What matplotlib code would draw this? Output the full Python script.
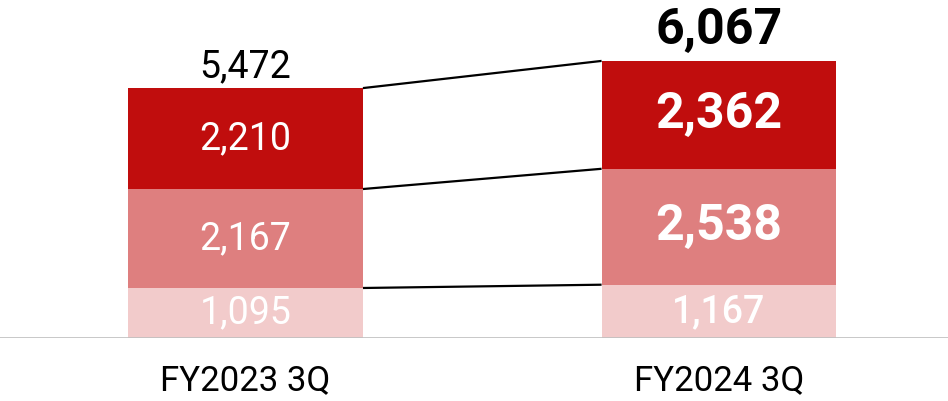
import matplotlib
matplotlib.use("Agg")
import matplotlib.pyplot as plt

categories = ["FY2023 3Q", "FY2024 3Q"]
bottom_vals = [1095, 1167]
middle_vals = [2167, 2538]
top_vals = [2210, 2362]
totals = [5472, 6067]

colors = ["#F2CBCB", "#DE7F7F", "#C00D0D"]

fig = plt.figure(figsize=(9.48, 4.01), dpi=100)
ax = fig.add_axes([0, 63/401, 1, 338/401])
font = "Roboto"

x = [0, 1]
w = 0.496
series = [bottom_vals, middle_vals, top_vals]
cum = [0, 0]
levels = []
for si, vals in enumerate(series):
    ax.bar(x, vals, width=w, bottom=cum, color=colors[si], edgecolor="none", zorder=2)
    for i in range(2):
        if i == 1 and si > 0:
            fs, fw = 36, "bold"
        elif i == 1:
            fs, fw = 27, "medium"
        else:
            fs, fw = 27, "normal"
        ax.text(x[i], cum[i] + vals[i] / 2, f"{vals[i]:,}", ha="center", va="center",
                color="white", fontsize=fs, fontweight=fw, family=font, zorder=3)
    cum = [cum[i] + vals[i] for i in range(2)]
    levels.append(list(cum))

for lv in levels:
    ax.plot([x[0] + w / 2, x[1] - w / 2], lv, color="black", lw=1.6, zorder=1,
            solid_capstyle="butt")

ax.text(x[0], totals[0] + 60, f"{totals[0]:,}", ha="center", va="bottom",
        fontsize=27, color="black", family=font)
ax.text(x[1], totals[1] + 150, f"{totals[1]:,}", ha="center", va="bottom",
        fontsize=36, fontweight="bold", color="black", family=font)

ax.axhline(0, color="#BFBFBF", lw=1.2, zorder=4)

ax.set_xlim(-245.5/473.5, (948-245.5)/473.5)
ax.set_ylim(0, 338/0.04567)
ax.set_xticks(x)
ax.set_xticklabels(categories, fontsize=25, family=font)
ax.tick_params(axis="x", length=0, pad=19)
ax.set_yticks([])
for s in ax.spines.values():
    s.set_visible(False)

fig.savefig("out.png", dpi=100)
